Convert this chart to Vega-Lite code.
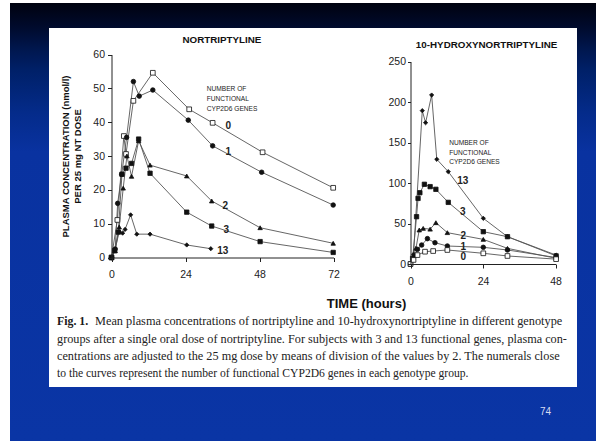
{
  "$schema": "https://vega.github.io/schema/vega-lite/v6.json",
  "width": 586,
  "height": 438,
  "autosize": "none",
  "padding": {"left": 10, "top": 3, "right": 5, "bottom": 0},
  "background": "#ffffff",
  "config": {"view": {"stroke": null}, "font": "Liberation Sans"},
  "title": {"text": "74", "orient": "bottom", "anchor": "end", "frame": "group", "offset": -34, "dx": -45, "fontSize": 10, "fontWeight": "normal", "color": "#d6dcf0", "font": "Liberation Sans"},
  "datasets": {
    "left": [
      {"g": "0", "t": 0, "c": 0}, {"g": "0", "t": 1.9, "c": 11.1}, {"g": "0", "t": 4.0, "c": 35.9}, {"g": "0", "t": 4.7, "c": 30.6}, {"g": "0", "t": 7.1, "c": 46.3}, {"g": "0", "t": 13.4, "c": 54.6}, {"g": "0", "t": 25.2, "c": 43.8}, {"g": "0", "t": 32.8, "c": 39.8}, {"g": "0", "t": 49.0, "c": 31.1}, {"g": "0", "t": 71.9, "c": 20.6},
      {"g": "1", "t": 0, "c": 0}, {"g": "1", "t": 1.2, "c": 2.5}, {"g": "1", "t": 2.0, "c": 16}, {"g": "1", "t": 3.3, "c": 24.6}, {"g": "1", "t": 4.9, "c": 35.5}, {"g": "1", "t": 7.1, "c": 52.0}, {"g": "1", "t": 9.0, "c": 47.7}, {"g": "1", "t": 13.4, "c": 49.5}, {"g": "1", "t": 24.9, "c": 40.6}, {"g": "1", "t": 32.8, "c": 33.0}, {"g": "1", "t": 48.7, "c": 25.2}, {"g": "1", "t": 71.9, "c": 15.5},
      {"g": "2", "t": 0, "c": 0}, {"g": "2", "t": 1.2, "c": 2}, {"g": "2", "t": 2.5, "c": 9}, {"g": "2", "t": 3.8, "c": 20.5}, {"g": "2", "t": 5.0, "c": 30}, {"g": "2", "t": 6.5, "c": 24}, {"g": "2", "t": 8.8, "c": 34.5}, {"g": "2", "t": 12.5, "c": 27.3}, {"g": "2", "t": 24.4, "c": 24.1}, {"g": "2", "t": 32.5, "c": 16.7}, {"g": "2", "t": 48.2, "c": 8.8}, {"g": "2", "t": 71.9, "c": 4.2},
      {"g": "3", "t": 0, "c": 0}, {"g": "3", "t": 1.0, "c": 2}, {"g": "3", "t": 2.2, "c": 7.5}, {"g": "3", "t": 3.4, "c": 24.6}, {"g": "3", "t": 4.7, "c": 26.4}, {"g": "3", "t": 6.5, "c": 27.8}, {"g": "3", "t": 8.8, "c": 35.0}, {"g": "3", "t": 12.5, "c": 24.9}, {"g": "3", "t": 24.4, "c": 13.4}, {"g": "3", "t": 32.5, "c": 9.3}, {"g": "3", "t": 48.2, "c": 4.7}, {"g": "3", "t": 71.9, "c": 1.5},
      {"g": "13", "t": 0, "c": 0}, {"g": "13", "t": 1.1, "c": 2.2}, {"g": "13", "t": 2.5, "c": 7.6}, {"g": "13", "t": 3.6, "c": 7.2}, {"g": "13", "t": 4.4, "c": 8.3}, {"g": "13", "t": 6.2, "c": 12.6}, {"g": "13", "t": 8.2, "c": 6.9}, {"g": "13", "t": 12.5, "c": 6.9}, {"g": "13", "t": 24.4, "c": 3.7}, {"g": "13", "t": 32.2, "c": 2.6}
    ],
    "right": [
      {"g": "13", "t": 0, "c": 0}, {"g": "13", "t": 1.0, "c": 12}, {"g": "13", "t": 3.9, "c": 189.3}, {"g": "13", "t": 5.0, "c": 174.4}, {"g": "13", "t": 7.0, "c": 208.6}, {"g": "13", "t": 8.7, "c": 129.3}, {"g": "13", "t": 12.5, "c": 114}, {"g": "13", "t": 24.1, "c": 56.4}, {"g": "13", "t": 32.1, "c": 33.7}, {"g": "13", "t": 48.2, "c": 11},
      {"g": "3", "t": 0, "c": 0}, {"g": "3", "t": 0.7, "c": 7}, {"g": "3", "t": 2.0, "c": 58.4}, {"g": "3", "t": 2.5, "c": 81}, {"g": "3", "t": 3.1, "c": 88}, {"g": "3", "t": 4.6, "c": 98.4}, {"g": "3", "t": 6.5, "c": 95.5}, {"g": "3", "t": 8.4, "c": 92.2}, {"g": "3", "t": 12.5, "c": 76.1}, {"g": "3", "t": 24.1, "c": 39.9}, {"g": "3", "t": 32.1, "c": 33.7}, {"g": "3", "t": 48.2, "c": 10},
      {"g": "2", "t": 0, "c": 0}, {"g": "2", "t": 1.8, "c": 19.4}, {"g": "2", "t": 2.9, "c": 42}, {"g": "2", "t": 4.2, "c": 44}, {"g": "2", "t": 6.5, "c": 43}, {"g": "2", "t": 8.4, "c": 51}, {"g": "2", "t": 12.2, "c": 38.7}, {"g": "2", "t": 24.1, "c": 30.4}, {"g": "2", "t": 32.1, "c": 19.3}, {"g": "2", "t": 48.2, "c": 7},
      {"g": "1", "t": 0, "c": 0}, {"g": "1", "t": 1.0, "c": 8}, {"g": "1", "t": 2.3, "c": 18.1}, {"g": "1", "t": 3.7, "c": 23.4}, {"g": "1", "t": 5.6, "c": 31.3}, {"g": "1", "t": 8.1, "c": 26.3}, {"g": "1", "t": 12.2, "c": 22.2}, {"g": "1", "t": 24.1, "c": 20.6}, {"g": "1", "t": 32.1, "c": 17.3}, {"g": "1", "t": 48.2, "c": 8},
      {"g": "0", "t": 0, "c": 0}, {"g": "0", "t": 1.0, "c": 5}, {"g": "0", "t": 2.3, "c": 11}, {"g": "0", "t": 4.8, "c": 15.2}, {"g": "0", "t": 7.5, "c": 16}, {"g": "0", "t": 12.2, "c": 17.3}, {"g": "0", "t": 24.1, "c": 13.2}, {"g": "0", "t": 32.1, "c": 9.9}, {"g": "0", "t": 48.2, "c": 6}
    ],
    "leftLabels": [
      {"label": "0", "t": 37.9, "c": 38.9}, {"label": "1", "t": 37.9, "c": 31.3}, {"label": "2", "t": 36.9, "c": 15.3}, {"label": "3", "t": 37.2, "c": 8.1}, {"label": "13", "t": 36.1, "c": 2.0}
    ],
    "rightLabels": [
      {"label": "13", "t": 17.3, "c": 102.8}, {"label": "3", "t": 17.3, "c": 64.6}, {"label": "2", "t": 17.5, "c": 34.6}, {"label": "1", "t": 17.5, "c": 21.5}, {"label": "0", "t": 17.5, "c": 8.5}
    ],
    "leftNote": [
      {"text": "NUMBER OF", "t": 30.9, "c": 49.8}, {"text": "FUNCTIONAL", "t": 30.9, "c": 46.9}, {"text": "CYP2D6  GENES", "t": 30.9, "c": 43.9}
    ],
    "rightNote": [
      {"text": "NUMBER OF", "t": 12.8, "c": 149}, {"text": "FUNCTIONAL", "t": 12.8, "c": 137.4}, {"text": "CYP2D6  GENES", "t": 12.8, "c": 126.3}
    ],
    "leftTitle": [{"text": "NORTRIPTYLINE", "t": 35.8, "c": 64.3}],
    "rightTitle": [{"text": "10-HYDROXYNORTRIPTYLINE", "t": 25.2, "c": 270.4}],
    "caption": [
      {"line": 1, "part": "fig", "text": "Fig. 1."},
      {"line": 1, "part": "first", "text": "Mean plasma concentrations of nortriptyline and 10-hydroxynortriptyline in different genotype"},
      {"line": 2, "part": "just", "text": "groups after a single oral dose of nortriptyline. For subjects with 3 and 13 functional genes, plasma con-"},
      {"line": 3, "part": "just", "text": "centrations are adjusted to the 25 mg dose by means of division of the values by 2. The numerals close"},
      {"line": 4, "part": "last", "text": "to the curves represent the number of functional CYP2D6 genes in each genotype group."}
    ]
  },
  "layer": [
    {
      "data": {"values": [{}]},
      "mark": {"type": "rect", "fill": {"gradient": "linear", "x1": 0, "y1": 0, "x2": 0, "y2": 1, "stops": [
        {"offset": 0, "color": "#00020f"},
        {"offset": 0.057, "color": "#000b2e"},
        {"offset": 0.107, "color": "#00174f"},
        {"offset": 0.153, "color": "#002068"},
        {"offset": 0.25, "color": "#042b8a"},
        {"offset": 0.34, "color": "#0932a0"},
        {"offset": 1, "color": "#0a35a5"}
      ]}}
    },
    {
      "data": {"values": [{}]},
      "mark": {"type": "rect", "fill": "#ffffff"},
      "encoding": {
        "x": {"datum": 0, "type": "quantitative", "scale": {"domain": [0, 1], "range": [39, 567]}, "axis": null},
        "x2": {"datum": 1},
        "y": {"datum": 0, "type": "quantitative", "scale": {"domain": [0, 1], "range": [25, 384]}, "axis": null},
        "y2": {"datum": 1}
      }
    },
    {
      "data": {"name": "left"},
      "encoding": {
        "x": {"field": "t", "type": "quantitative", "scale": {"domain": [0, 72], "range": [101.5, 323.5], "nice": false, "zero": false},
          "axis": {"orient": "bottom", "offset": -183.5, "zindex": 1, "values": [0, 24, 48, 72], "grid": false, "tickSize": 4, "labelPadding": 8, "labelFontSize": 10.5, "labelColor": "#222222", "domainColor": "#222222", "tickColor": "#222222", "labelFlush": false, "labelOverlap": false, "title": null}},
        "y": {"field": "c", "type": "quantitative", "scale": {"domain": [0, 60], "range": [254.5, 51.5], "nice": false},
          "axis": {"orient": "left", "offset": -101.5, "zindex": 1, "values": [0, 10, 20, 30, 40, 50, 60], "grid": false, "tickSize": 4, "labelPadding": 3, "labelFontSize": 10.5, "labelColor": "#222222", "domainColor": "#222222", "tickColor": "#222222", "labelFlush": false, "labelOverlap": false,
            "title": ["PLASMA CONCENTRATION (nmol/l)", "PER 25 mg NT DOSE"], "titleFontSize": 9.5, "titleFontWeight": "bold", "titleColor": "#111111", "titlePadding": 10, "titleLineHeight": 12}}
      },
      "layer": [
        {"mark": {"type": "line", "color": "#555555", "strokeWidth": 0.9}, "encoding": {"detail": {"field": "g", "type": "nominal"}}},
        {"mark": {"type": "point", "filled": true, "opacity": 1, "stroke": "#111111", "strokeWidth": 0.8},
          "encoding": {
            "shape": {"field": "g", "type": "nominal", "scale": {"domain": ["0", "1", "2", "3", "13"], "range": ["square", "circle", "triangle-up", "square", "diamond"]}, "legend": null},
            "fill": {"field": "g", "type": "nominal", "scale": {"domain": ["0", "1", "2", "3", "13"], "range": ["#ffffff", "#111111", "#111111", "#111111", "#111111"]}, "legend": null},
            "size": {"field": "g", "type": "ordinal", "scale": {"domain": ["0", "1", "2", "3", "13"], "range": [22, 18, 22, 22, 10]}, "legend": null}
          }},
        {"data": {"name": "leftLabels"}, "mark": {"type": "text", "fontSize": 10, "color": "#222222", "fontWeight": "bold"}, "encoding": {"text": {"field": "label"}}},
        {"data": {"name": "leftNote"}, "mark": {"type": "text", "fontSize": 6.6, "align": "left", "color": "#222222"}, "encoding": {"text": {"field": "text"}}},
        {"data": {"name": "leftTitle"}, "mark": {"type": "text", "fontSize": 9.8, "fontWeight": "bold", "color": "#111111"}, "encoding": {"text": {"field": "text"}}}
      ]
    },
    {
      "data": {"name": "right"},
      "encoding": {
        "x": {"field": "t", "type": "quantitative", "scale": {"domain": [0, 48], "range": [400.5, 545.5], "nice": false, "zero": false},
          "axis": {"orient": "bottom", "offset": -177, "zindex": 1, "values": [0, 24, 48], "grid": false, "tickSize": 4, "labelPadding": 8, "labelFontSize": 10.5, "labelColor": "#222222", "domainColor": "#222222", "tickColor": "#222222", "labelFlush": false, "labelOverlap": false,
            "title": "TIME (hours)", "titleX": 356, "titleY": 39, "titleBaseline": "middle", "titleFontSize": 13, "titleFontWeight": "bold", "titleColor": "#111111"}},
        "y": {"field": "c", "type": "quantitative", "scale": {"domain": [0, 250], "range": [261, 58.5], "nice": false},
          "axis": {"orient": "left", "offset": -400.5, "zindex": 1, "values": [0, 50, 100, 150, 200, 250], "grid": false, "tickSize": 3, "labelPadding": 2, "labelFontSize": 10.5, "labelColor": "#222222", "domainColor": "#222222", "tickColor": "#222222", "labelFlush": false, "labelOverlap": false, "title": null}}
      },
      "layer": [
        {"mark": {"type": "line", "color": "#555555", "strokeWidth": 0.9}, "encoding": {"detail": {"field": "g", "type": "nominal"}}},
        {"mark": {"type": "point", "filled": true, "opacity": 1, "stroke": "#111111", "strokeWidth": 0.8},
          "encoding": {
            "shape": {"field": "g", "type": "nominal", "scale": {"domain": ["0", "1", "2", "3", "13"], "range": ["square", "circle", "triangle-up", "square", "diamond"]}, "legend": null},
            "fill": {"field": "g", "type": "nominal", "scale": {"domain": ["0", "1", "2", "3", "13"], "range": ["#ffffff", "#111111", "#111111", "#111111", "#111111"]}, "legend": null},
            "size": {"field": "g", "type": "ordinal", "scale": {"domain": ["0", "1", "2", "3", "13"], "range": [22, 18, 22, 22, 10]}, "legend": null}
          }},
        {"data": {"name": "rightLabels"}, "mark": {"type": "text", "fontSize": 10, "color": "#222222", "fontWeight": "bold"}, "encoding": {"text": {"field": "label"}}},
        {"data": {"name": "rightNote"}, "mark": {"type": "text", "fontSize": 6.6, "align": "left", "color": "#222222"}, "encoding": {"text": {"field": "text"}}},
        {"data": {"name": "rightTitle"}, "mark": {"type": "text", "fontSize": 9.8, "fontWeight": "bold", "color": "#111111"}, "encoding": {"text": {"field": "text"}}}
      ]
    },
    {
      "data": {"name": "caption"},
      "encoding": {
        "x": {"datum": 0, "type": "quantitative", "scale": {"domain": [0, 1], "range": [47, 557]}, "axis": null},
        "y": {"field": "line", "type": "ordinal", "scale": {"type": "point", "domain": [1, 2, 3, 4], "range": [318, 370.5], "padding": 0}, "axis": null}
      },
      "layer": [
        {"transform": [{"filter": "datum.part == 'fig'"}], "mark": {"type": "text", "align": "left", "baseline": "middle", "font": "Liberation Serif", "fontSize": 11.8, "fontWeight": "bold", "color": "#1a1a1a"}, "encoding": {"text": {"field": "text"}}},
        {"transform": [{"filter": "datum.part == 'first'"}], "mark": {"type": "text", "align": "left", "baseline": "middle", "font": "Liberation Serif", "fontSize": 12.3, "color": "#222222", "dx": 38}, "encoding": {"text": {"field": "text"}}},
        {"transform": [{"filter": "datum.part == 'just'"}], "mark": {"type": "text", "align": "left", "baseline": "middle", "font": "Liberation Serif", "fontSize": 12.25, "color": "#222222"}, "encoding": {"text": {"field": "text"}}},
        {"transform": [{"filter": "datum.part == 'last'"}], "mark": {"type": "text", "align": "left", "baseline": "middle", "font": "Liberation Serif", "fontSize": 11.6, "color": "#222222"}, "encoding": {"text": {"field": "text"}}}
      ]
    }
  ],
  "resolve": {"scale": {"x": "independent", "y": "independent"}, "axis": {"x": "independent", "y": "independent"}}
}
